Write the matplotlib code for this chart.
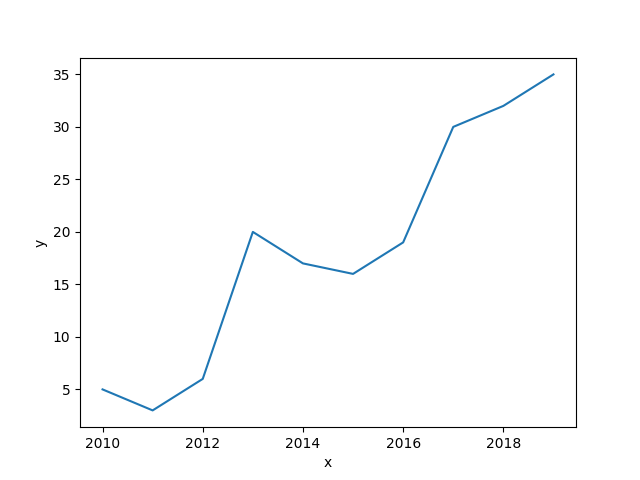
import matplotlib
matplotlib.use("Agg")
import matplotlib.pyplot as plt

years = [2010, 2011, 2012, 2013, 2014, 2015, 2016, 2017, 2018, 2019]
values = [5, 3, 6, 20, 17, 16, 19, 30, 32, 35]

fig, ax = plt.subplots(figsize=(6.4, 4.8), dpi=100)
ax.plot(years, values)
ax.set_xlabel('x')
ax.set_ylabel('y')
fig.savefig('out.png')
